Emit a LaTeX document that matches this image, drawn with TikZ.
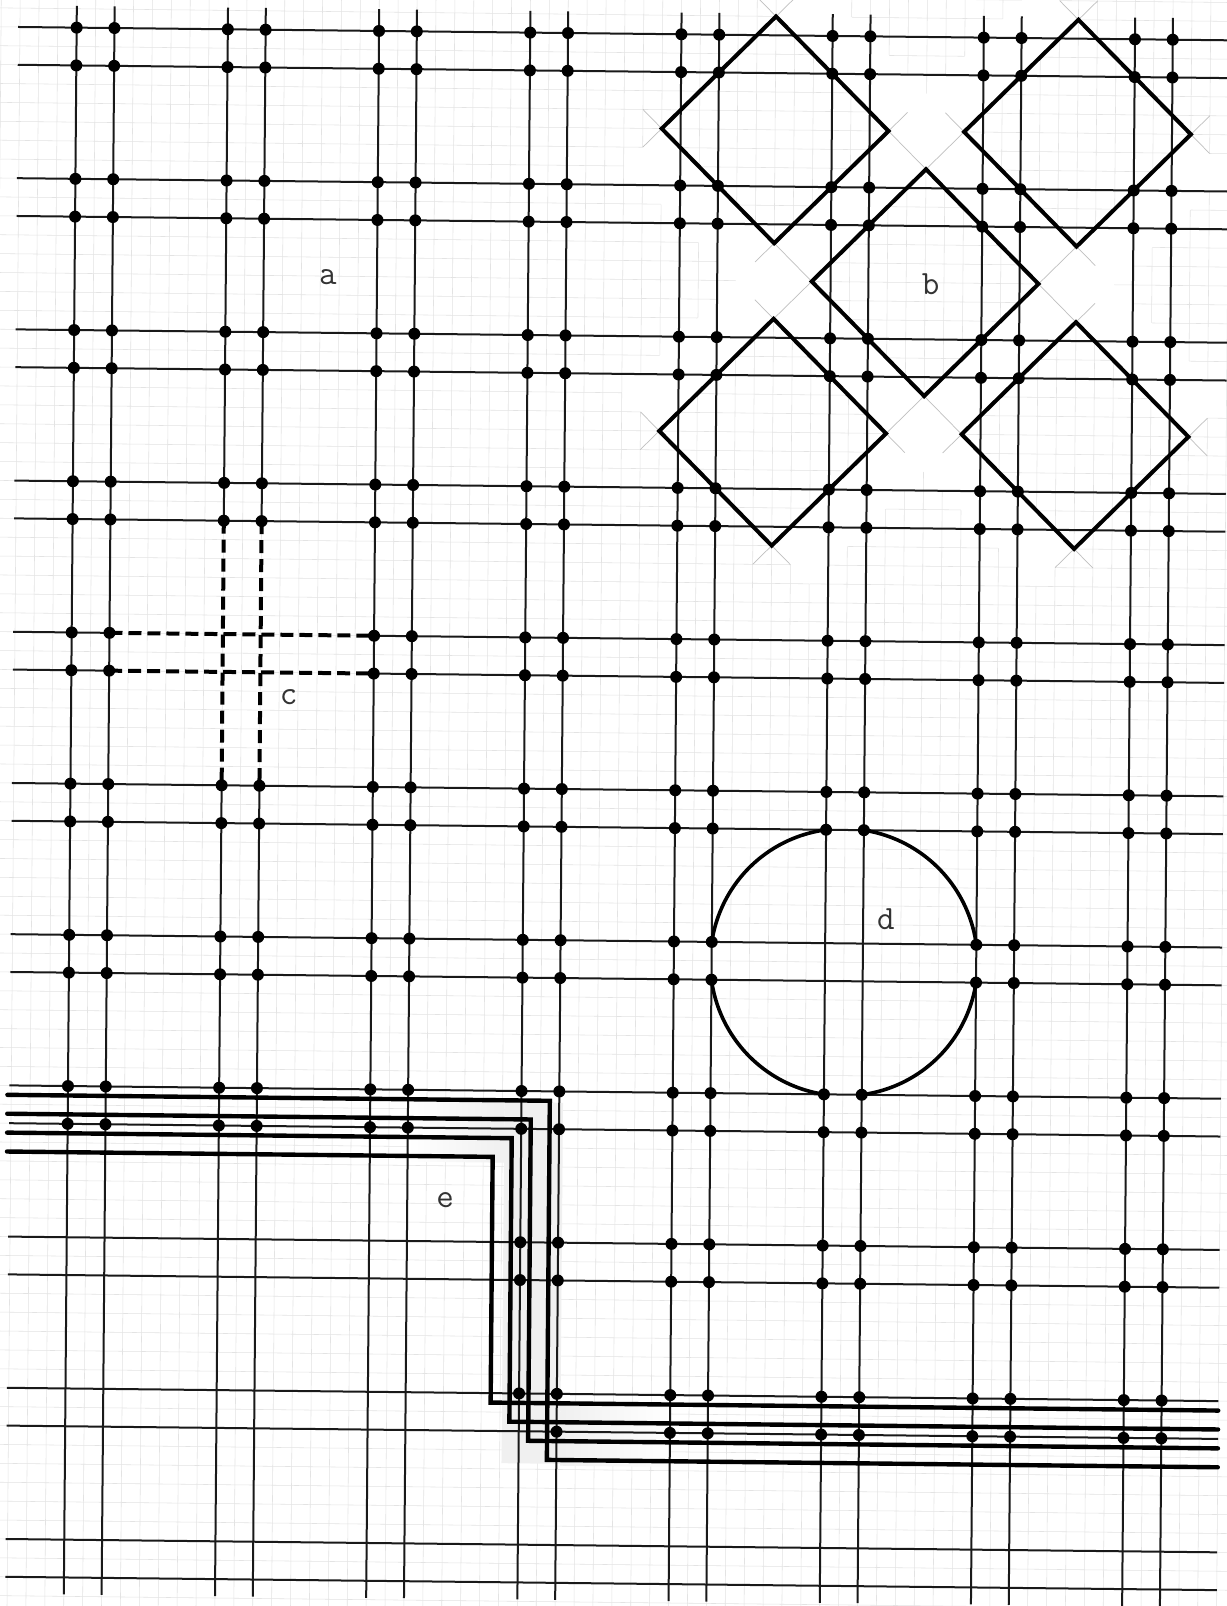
\documentclass[tikz,border=0pt]{standalone}
\usepackage{fontspec}
\tikzset{
 finegrid/.style={draw=black!11, line width=0.55pt},
 gridline/.style={draw=black!90, line width=2pt},
 dashline/.style={draw=black, line width=4pt, dash pattern=on 13pt off 6pt},
 diamondline/.style={draw=black, line width=4pt, line join=miter},
 ringline/.style={draw=black, line width=3.6pt},
 bundleline/.style={draw=black, line width=4.4pt, line join=miter, line cap=round},
 faintline/.style={draw=black!25, line width=0.7pt},
 gapband/.style={fill=white},
 lbl/.style={font=\ttfamily\fontsize{34}{34}\selectfont, text=black!80, inner sep=0pt},
}
\begin{document}
\begin{tikzpicture}[x=1pt,y=-1pt]
\useasboundingbox (0,0) rectangle (1226,1606);
\fill[white] (0,0) rectangle (1226,1606);
\begin{scope}[shift={(613,803)}, xslant=0.0082, yslant=-0.011, shift={(-613,-803)}, shift={(70.3,33.6)}, x=18.9pt, y=-18.9pt]
 % fine graph-paper grid
 \foreach \i in {-5,...,62} \draw[finegrid] (\i,-3) -- (\i,85);
 \foreach \j in {-3,...,85} \draw[finegrid] (-5,\j) -- (62,\j);
 % white channels between the diamonds
 \fill[gapband] (29,19) -- (31,21) -- (53,-1) -- (51,-3) -- cycle;
 \fill[gapband] (37,27) -- (39,29) -- (61,7) -- (59,5) -- cycle;
 \fill[gapband] (29,7) -- (31,5) -- (53,27) -- (51,29) -- cycle;
 \fill[gapband] (37,-1) -- (39,-3) -- (61,19) -- (59,21) -- cycle;
 % faint construction lines
 \foreach \cx/\cy in {37/5,53/5,45/13,37/21,53/21}{
   \draw[faintline] (\cx-7,\cy+1) -- (\cx+1,\cy-7);
   \draw[faintline] (\cx-1,\cy-7) -- (\cx+7,\cy+1);
   \draw[faintline] (\cx+7,\cy-1) -- (\cx-1,\cy+7);
   \draw[faintline] (\cx+1,\cy+7) -- (\cx-7,\cy-1);
 }
 % tone behind the bundle e
 \fill[black!6] (23.1,56.6) rectangle (26.2,75.7);
 \shade[left color=black!6, right color=white] (26.2,72.4) rectangle (32,75.8);
 \shade[left color=white, right color=black!6] (18,56.4) rectangle (23.1,59.8);
 % main grid lines
 \foreach \n in {0,2,16,18,24,26,32,34,40,42,48,50,56,58}
   \draw[gridline] (\n,-1.15) -- (\n,82.9);
 \foreach \n in {8,10}{
   \draw[gridline] (\n,-1.15) -- (\n,26);
   \draw[dashline] (\n,26) -- (\n,40);
   \draw[gridline] (\n,40) -- (\n,82.9);
 }
 \foreach \m in {0,2,8,10,16,18,24,26,40,42,48,50,56,58,64,66,72,74,80,82}
   \draw[gridline] (-3.1,\m) -- (61.0,\m);
 \foreach \m in {32,34}{
   \draw[gridline] (-3.1,\m) -- (2,\m);
   \draw[dashline] (2,\m) -- (16,\m);
   \draw[gridline] (16,\m) -- (61.0,\m);
 }
 % diamonds (b)
 \foreach \cx/\cy in {37/5,53/5,45/13,37/21,53/21}
   \draw[diamondline] (\cx-6,\cy) -- (\cx,\cy-6) -- (\cx+6,\cy) -- (\cx,\cy+6) -- cycle;
 % broken circle (d)
 \foreach \a/\b in {-81.87/-8.13, 8.13/81.87, 98.13/171.87, 188.13/261.87}
   \draw[ringline] plot[domain=\a:\b, samples=40, variable=\t] ({41+7.0711*cos(\t)},{49+7.0711*sin(\t)});
 % bundle (e)
 \foreach \i in {0,...,3}
   \draw[bundleline] (-3.2,56.5+\i) -- (25.5-\i,56.5+\i) -- (25.5-\i,75.5-\i) -- (61.0,75.5-\i);
 % dots
 \foreach \k in {0,...,7}{
  \foreach \j in {0,...,9}{
   \foreach \dn in {0,2}{
    \foreach \dm in {0,2}{
     \pgfmathtruncatemacro{\omitdot}{(\j==4 && \k==1) || (\j==6 && \k==5) || (\j>7 && \k<3) || (\j==9 && \k==3 && \dn==0 && \dm==2)}
     \ifnum\omitdot=0 \fill[black] (8*\k+\dn,8*\j+\dm) circle[radius=6pt];\fi
 }}}}
 % labels
 \node[lbl] (la) at (13.4,13.05) {a};
 \node[lbl] (lb) at (45.3,13.1) {b};
 \node[lbl] (lc) at (11.5,35.3) {c};
 \node[lbl] (ld) at (43.2,46.7) {d};
 \node[lbl] (le) at (20.0,61.8) {e};
\end{scope}
\end{tikzpicture}
\end{document}
